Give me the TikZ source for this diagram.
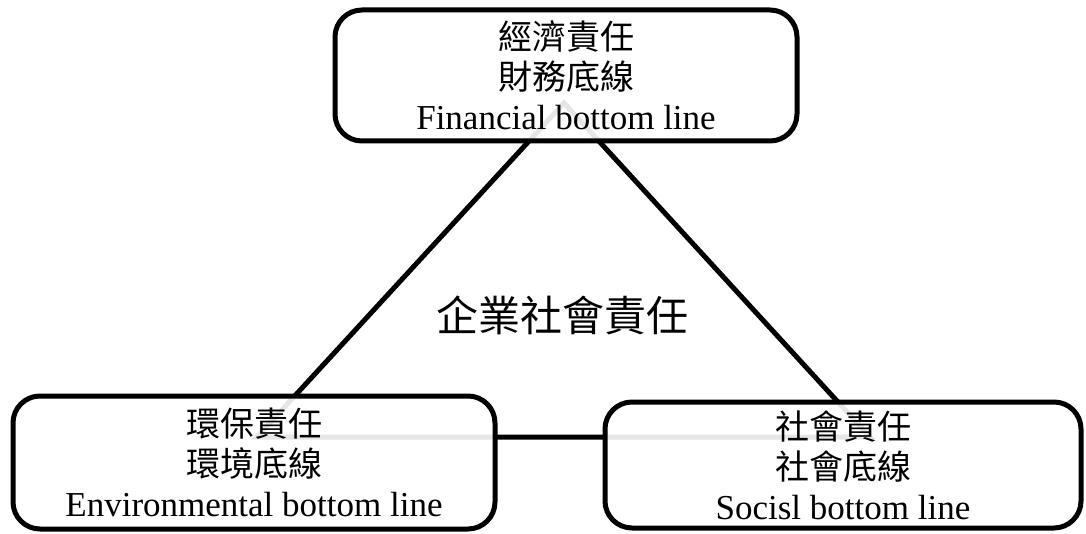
\documentclass[tikz,border=0pt]{standalone}
\usepackage{fontspec}
\setmainfont{Liberation Serif}
\newfontfamily\cjk{Noto Sans CJK TC}
\begin{document}
\begin{tikzpicture}[x=1pt,y=-1pt,
  box/.style={draw=black, line width=5pt, rounded corners=27pt,
    fill=white, fill opacity=0.9, text opacity=1, inner sep=0pt,
    align=center, font=\fontsize{35}{40}\selectfont},
  tri/.style={draw=black, line width=5pt, line join=miter}]
\useasboundingbox (0,0) rectangle (1086,534);
\coordinate (t) at (564,103);
\coordinate (l) at (257,437);
\coordinate (r) at (870,437);
\draw[tri] (t) -- (l) -- (r) -- cycle;
\node[box, minimum width=462pt, minimum height=131pt] (fin) at (566,75.5)
  {{\cjk\fontsize{34}{40}\selectfont 經濟責任}\\{\cjk\fontsize{34}{40}\selectfont 財務底線}\\Financial bottom line};
\node[box, minimum width=482pt, minimum height=133pt] (env) at (254,462.5)
  {{\cjk\fontsize{34}{40}\selectfont 環保責任}\\{\cjk\fontsize{34}{40}\selectfont 環境底線}\\Environmental bottom line};
\node[box, minimum width=476pt, minimum height=126pt] (soc) at (843,465)
  {{\cjk\fontsize{34}{40}\selectfont 社會責任}\\{\cjk\fontsize{34}{40}\selectfont 社會底線}\\Socisl bottom line};
\node[font=\cjk\fontsize{42}{48}\selectfont, inner sep=0pt] (csr) at (562,315) {企業社會責任};
\end{tikzpicture}
\end{document}
